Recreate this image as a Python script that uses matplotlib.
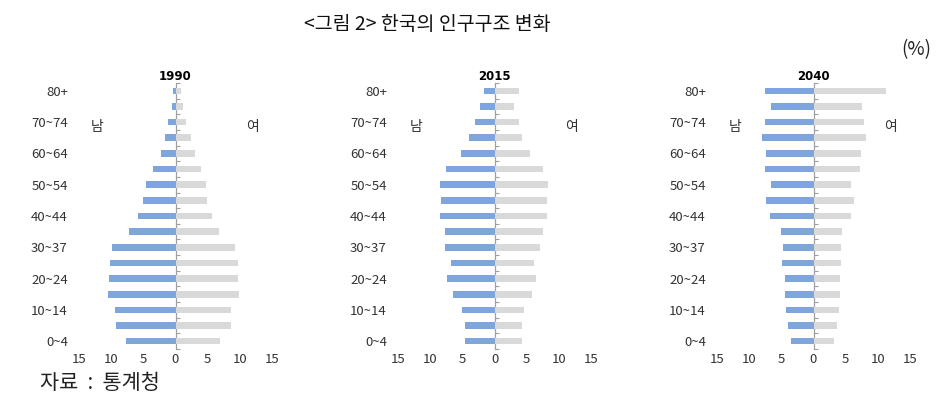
import numpy as np
import matplotlib.pyplot as plt

plt.rcParams['font.family'] = ['Noto Sans CJK KR', 'DejaVu Sans']

ages = ["0~4", "5~9", "10~14", "15~19", "20~24", "25~29", "30~37", "35~39",
        "40~44", "45~49", "50~54", "55~59", "60~64", "65~69", "70~74", "75~79", "80+"]

years = ["1990", "2015", "2040"]

# percent, bottom (0~4) to top (80+)
male = {
    "1990": [7.7, 9.2, 9.4, 10.5, 10.4, 10.2, 9.8, 7.3, 5.8, 5.1, 4.6, 3.5, 2.2, 1.7, 1.1, 0.6, 0.35],
    "2015": [4.6, 4.6, 5.0, 6.5, 7.4, 6.8, 7.7, 7.7, 8.4, 8.3, 8.4, 7.5, 5.2, 4.0, 3.0, 2.2, 1.6],
    "2040": [3.5, 4.0, 4.3, 4.4, 4.5, 4.9, 4.7, 5.1, 6.8, 7.4, 6.6, 7.5, 7.4, 8.0, 7.5, 6.6, 7.5],
}
female = {
    "1990": [6.9, 8.6, 8.7, 9.9, 9.7, 9.7, 9.3, 6.8, 5.6, 4.9, 4.7, 3.9, 3.0, 2.4, 1.6, 1.2, 0.9],
    "2015": [4.3, 4.3, 4.6, 5.9, 6.4, 6.1, 7.1, 7.5, 8.1, 8.1, 8.3, 7.6, 5.5, 4.3, 3.8, 3.1, 3.8],
    "2040": [3.2, 3.6, 3.9, 4.1, 4.1, 4.2, 4.2, 4.5, 5.8, 6.3, 5.9, 7.2, 7.4, 8.1, 7.9, 7.5, 11.2],
}

xticks = [-15, -10, -5, 0, 5, 10, 15]

blue = "#7EA6DC"
gray = "#D9D9D9"
axis_gray = "#A0A0A0"

fig = plt.figure(figsize=(9.41, 4.09), dpi=100)

lefts = [79, 398, 717]
y = np.arange(len(ages))

for left, yr in zip(lefts, years):
    ax = fig.add_axes([left / 941, 1 - 349 / 409, 193 / 941, 266 / 409])
    ax.barh(y, -np.array(male[yr]), height=0.42, color=blue)
    ax.barh(y, female[yr], height=0.42, color=gray)
    ax.set_xlim(-15, 15)
    ax.set_ylim(-0.5, len(ages) - 0.5)
    for s in ax.spines.values():
        s.set_visible(False)
    ax.set_xticks(xticks)
    ax.set_xticklabels([str(abs(t)) for t in xticks])
    ax.set_yticks(y)
    ax.set_yticklabels([a if i % 2 == 0 else "" for i, a in enumerate(ages)])
    ax.tick_params(axis='both', length=0, labelsize=9.5, colors="#333333")
    ax.tick_params(axis='y', pad=8)
    ax.tick_params(axis='x', pad=3)
    ax.set_title(yr, fontsize=8.5, fontweight='bold', pad=2, family='DejaVu Sans')

    mid = ax.secondary_yaxis(0.5)
    mid.set_yticks(np.arange(-0.5, len(ages), 1.0))
    mid.set_yticklabels([])
    mid.tick_params(length=3, color=axis_gray, width=0.8)
    for s in mid.spines.values():
        s.set_color(axis_gray)
        s.set_linewidth(0.9)

    ax.text(-12.2, 13.7, "남", ha='center', va='center', fontsize=10, color="#333333")
    ax.text(12.0, 13.7, "여", ha='center', va='center', fontsize=10, color="#333333")

fig.text(427 / 941, 1 - 25 / 409, "<그림 2> 한국의 인구구조 변화", ha='center', va='center',
         fontsize=14, color="#111111")
fig.text(916 / 941, 1 - 50 / 409, "(%)", ha='center', va='center', fontsize=13.5, color="#222222")
fig.text(40 / 941, 1 - 383 / 409, "자료  :  통계청", ha='left', va='center', fontsize=15, color="#222222")

fig.savefig("out.png", dpi=100)
